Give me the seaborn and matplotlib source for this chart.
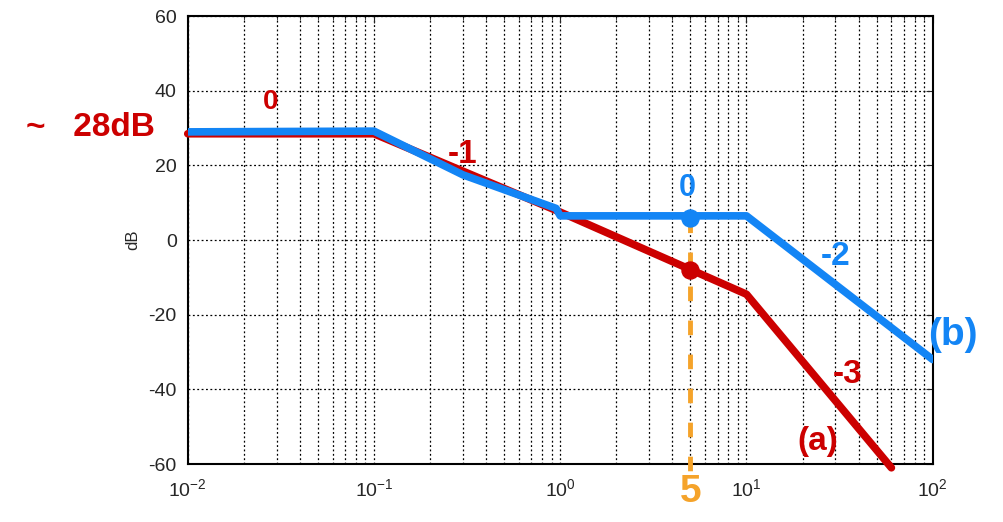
import numpy as np
import pandas as pd
import matplotlib
matplotlib.use('Agg')
import matplotlib.pyplot as plt
import seaborn as sns

# asymptotic Bode magnitude, two cases
freq_a = [0.01, 0.1, 1.0, 10.0, 60.0]
db_a = [28.5, 28.5, 7.5, -14.5, -61.0]

freq_b = [0.01, 0.1, 0.3, 0.95, 1.0, 10.0, 100.0]
db_b = [29.0, 29.2, 17.5, 8.5, 6.5, 6.5, -32.0]

mark_freq = [5.0]
mark_a = [-8.0]
mark_b = [6.0]

red = '#CC0000'
blue = '#1385F5'
orange = '#F5A32A'

sns.set_style('white')
plt.rcParams['font.family'] = ['Liberation Sans', 'DejaVu Sans']
plt.rcParams['mathtext.default'] = 'regular'
plt.rcParams['axes.unicode_minus'] = False

fig = plt.figure(figsize=(10.04, 5.22), dpi=100)
ax = fig.add_axes([0.187, 0.111, 0.742, 0.858])

df_a = pd.DataFrame({'f': freq_a, 'dB': db_a})
df_b = pd.DataFrame({'f': freq_b, 'dB': db_b})

# orange guide at w = 5
ax.plot([mark_freq[0], mark_freq[0]], [mark_b[0], -62], color=orange, lw=3.5,
        ls=(0, (3, 4)), clip_on=False, zorder=3)

sns.lineplot(data=df_a, x='f', y='dB', sort=False, color=red, lw=5.5, ax=ax,
             zorder=4, clip_on=False, solid_capstyle='round')
sns.lineplot(data=df_b, x='f', y='dB', sort=False, color=blue, lw=5.5, ax=ax,
             zorder=5, solid_capstyle='round')
ax.scatter(mark_freq, mark_a, s=150, color=red, zorder=6)
ax.scatter(mark_freq, mark_b, s=150, color=blue, zorder=6)

ax.set_xscale('log')
ax.set_xlim(1e-2, 1e2)
ax.set_ylim(-60, 60)
ax.set_yticks(np.arange(-60, 61, 20))
ax.set_xlabel('')
ax.set_ylabel('dB', fontsize=12, labelpad=6)
ax.grid(True, which='major', color='black', ls=(0, (1.5, 2)), lw=0.9)
ax.grid(True, which='minor', axis='x', color='black', ls=(0, (1.5, 2)), lw=0.9)
ax.tick_params(direction='in', which='both', top=True, right=True,
               labelsize=14, length=5)
ax.tick_params(axis='x', which='major', pad=10)
ax.tick_params(axis='y', pad=8)
ax.tick_params(which='minor', length=3)
for s in ax.spines.values():
    s.set_color('black')
    s.set_linewidth(1.5)

# hand-written notes
hand = dict(fontweight='bold', ha='center', va='center', clip_on=False)
fig.text(0.09, 0.755, '~   28dB', color=red, fontsize=24, **hand)
ax.text(0.028, 37, '0', color=red, fontsize=20, **hand)
ax.text(0.3, 23, '-1', color=red, fontsize=24, **hand)
ax.text(4.8, 14, '0', color=blue, fontsize=22, **hand)
ax.text(30, -4.5, '-2', color=blue, fontsize=24, **hand)
ax.text(128, -25.5, '(b)', color=blue, fontsize=28, **hand)
ax.text(35, -36, '-3', color=red, fontsize=24, **hand)
ax.text(24, -54, '(a)', color=red, fontsize=24, **hand)
ax.text(5, -67.5, '5', color=orange, fontsize=28, **hand)

fig.savefig('out.png', dpi=100)
